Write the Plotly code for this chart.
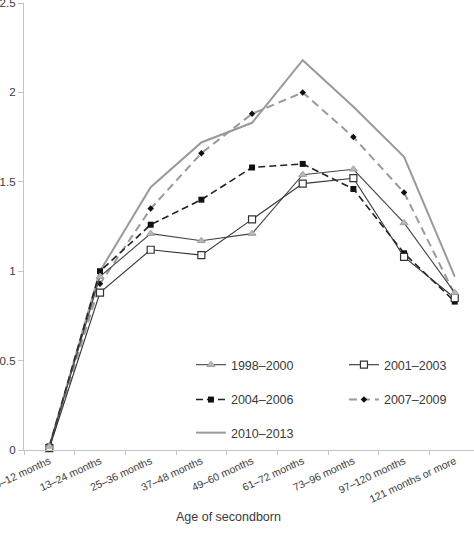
import plotly.graph_objects as go

categories = ["0–12 months", "13–24 months", "25–36 months", "37–48 months",
              "49–60 months", "61–72 months", "73–96 months", "97–120 months",
              "121 months or more"]
s_1998_2000 = [0.02, 0.97, 1.21, 1.17, 1.21, 1.54, 1.57, 1.27, 0.88]
s_2001_2003 = [0.01, 0.88, 1.12, 1.09, 1.29, 1.49, 1.52, 1.08, 0.85]
s_2004_2006 = [0.02, 1.00, 1.26, 1.40, 1.58, 1.60, 1.46, 1.10, 0.83]
s_2007_2009 = [0.02, 0.93, 1.35, 1.66, 1.88, 2.00, 1.75, 1.44, 0.87]
s_2010_2013 = [0.02, 1.00, 1.47, 1.72, 1.83, 2.18, 1.92, 1.64, 0.97]
y_ticks = [0, 0.5, 1, 1.5, 2, 2.5]
y_ticklabels = ["0", "0.5", "1", "1.5", "2", "2.5"]

FONT = "Liberation Sans, Arial, sans-serif"
TXT = "#3a3a3a"

fig = go.Figure()

fig.add_trace(go.Scatter(
    x=categories, y=s_2010_2013, name="2010–2013", mode="lines",
    line=dict(color="#9a9a9a", width=2), legend="legend3", cliponaxis=False))
fig.add_trace(go.Scatter(
    x=categories, y=s_2007_2009, name="2007–2009", mode="lines+markers",
    line=dict(color="#9a9a9a", width=2, dash="8px,5px"),
    marker=dict(symbol="diamond", size=5, color="#111"), legend="legend2",
    cliponaxis=False))
fig.add_trace(go.Scatter(
    x=categories, y=s_2004_2006, name="2004–2006", mode="lines+markers",
    line=dict(color="#222", width=1.6, dash="7px,4px"),
    marker=dict(symbol="square", size=6, color="#111"), legend="legend2",
    cliponaxis=False))
fig.add_trace(go.Scatter(
    x=categories, y=s_2001_2003, name="2001–2003", mode="lines+markers",
    line=dict(color="#333", width=1.1),
    marker=dict(symbol="square", size=7, color="white",
                line=dict(color="#333", width=1.2)), legend="legend",
    cliponaxis=False))
fig.add_trace(go.Scatter(
    x=categories, y=s_1998_2000, name="1998–2000", mode="lines+markers",
    line=dict(color="#444", width=1.1),
    marker=dict(symbol="triangle-up", size=7, color="#b8b8b8",
                line=dict(color="#a0a0a0", width=1)), legend="legend",
    cliponaxis=False))

leg_common = dict(orientation="h", xanchor="left", yanchor="middle",
                  bgcolor="rgba(0,0,0,0)", entrywidth=108,
                  font=dict(family=FONT, size=12.5, color=TXT),
                  traceorder="reversed")

fig.update_layout(
    width=474, height=534,
    margin=dict(l=24, r=0, t=3, b=84, autoexpand=False),
    paper_bgcolor="white", plot_bgcolor="white",
    font=dict(family=FONT, color=TXT),
    legend=dict(x=0.371, y=0.19, **leg_common),
    legend2=dict(x=0.371, y=0.112, **leg_common),
    legend3=dict(x=0.371, y=0.038, **leg_common),
    xaxis=dict(
        type="category", range=[-0.5, 8.38], autorange=False, automargin=False,
        showgrid=False,
        showline=True, linecolor="#c4c4c4", linewidth=1.2,
        ticks="outside", tickson="boundaries", ticklen=4, tickcolor="#c4c4c4",
        tickangle=-25, tickfont=dict(family=FONT, size=10.5, color=TXT),
        zeroline=False, ticklabeloverflow="allow",
    ),
    yaxis=dict(
        range=[0, 2.5], autorange=False, automargin=False,
        showgrid=False, zeroline=False,
        showline=True, linecolor="#c4c4c4", linewidth=1.2,
        ticks="outside", ticklen=5, tickcolor="#c4c4c4",
        tickvals=y_ticks, ticktext=y_ticklabels,
        tickfont=dict(family=FONT, size=11.5, color=TXT),
        ticklabeloverflow="allow",
    ),
    annotations=[dict(
        text="Age of secondborn", xref="paper", yref="paper",
        x=(228 - 24) / 450, y=-(517 - 450) / 447, xanchor="center",
        yanchor="middle", showarrow=False,
        font=dict(family=FONT, size=12.5, color=TXT))],
)

fig.write_html("out.html")
